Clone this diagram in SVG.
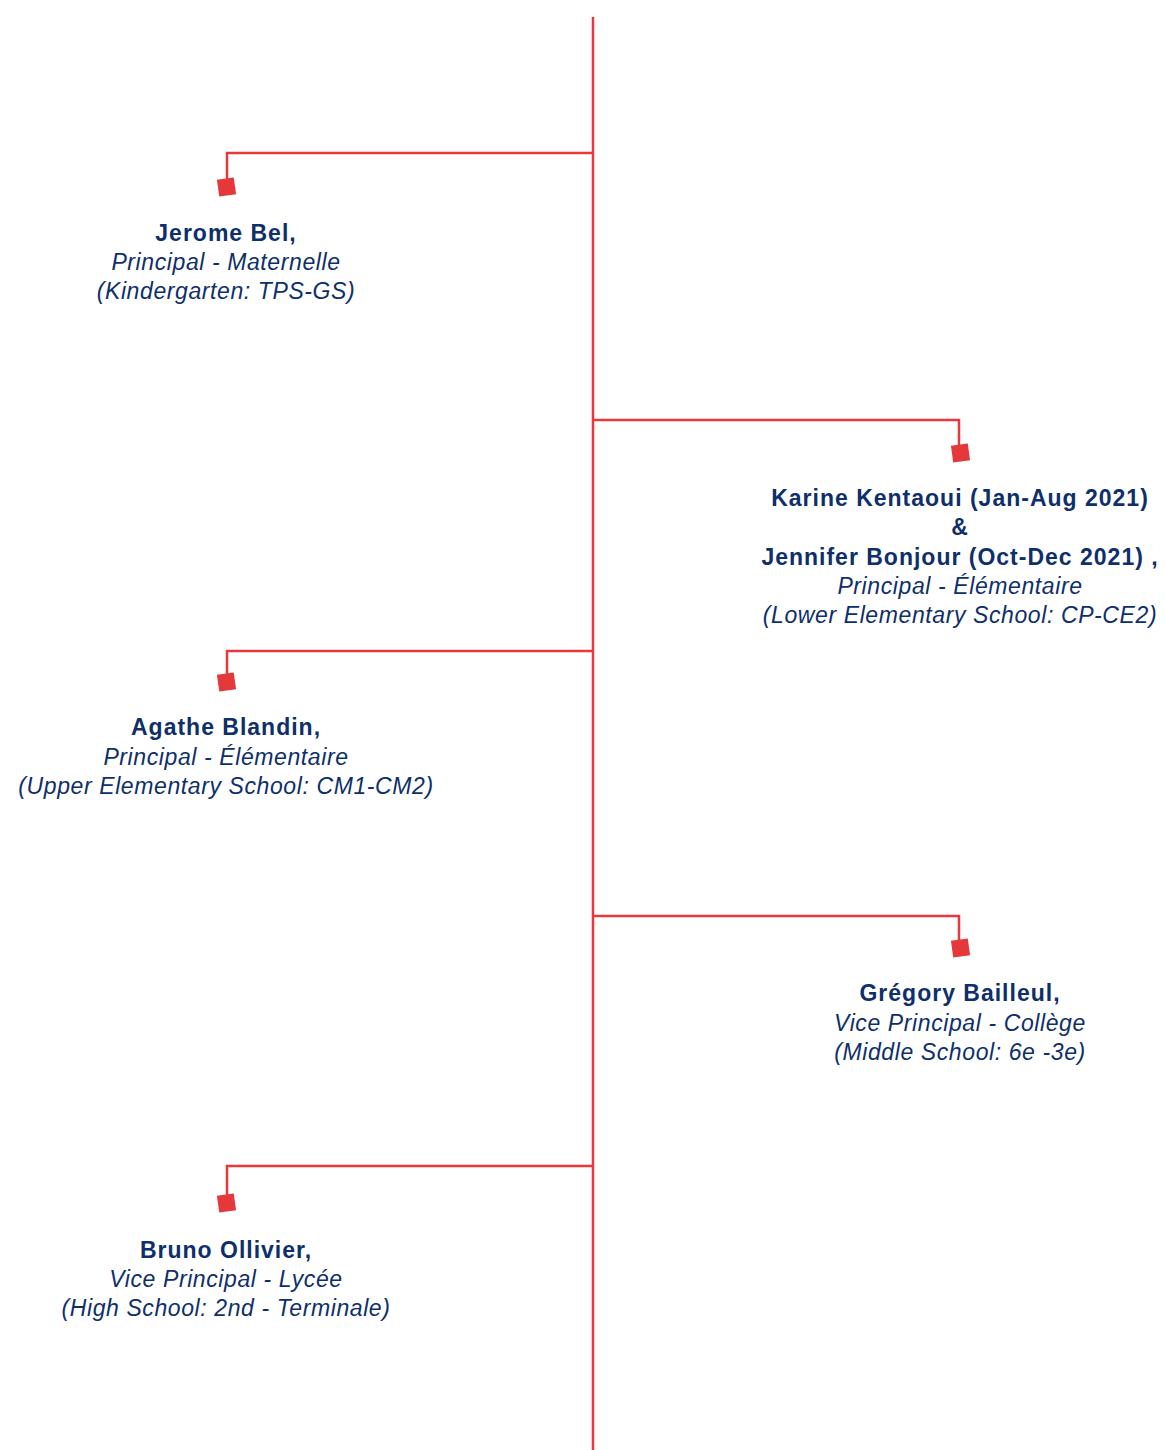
<svg xmlns="http://www.w3.org/2000/svg" width="1165" height="1450" viewBox="0 0 1165 1450">
<defs>
<style>
.ln{fill:none;stroke:#E8383B;stroke-width:2.5}
.sq{fill:#E5383A}
text{font-family:"Liberation Sans",Arial,sans-serif;font-size:23px;fill:#0E2F6B;text-anchor:middle}
.b{font-weight:bold;letter-spacing:1px}
.i{font-style:italic;letter-spacing:0.6px}
</style>
</defs>
<rect width="1165" height="1450" fill="#fff"/>
<g id="connectors">
<path class="ln" d="M593,17 V1450"/>
<path class="ln" d="M593,153 H227 V182"/>
<path class="ln" d="M593,420 H959 V448"/>
<path class="ln" d="M593,651 H227 V678"/>
<path class="ln" d="M593,916 H959 V943"/>
<path class="ln" d="M593,1166 H227 V1197"/>
<rect class="sq" x="-8.5" y="-8.5" width="17" height="17" transform="translate(226.5,187) rotate(-8)"/>
<rect class="sq" x="-8.5" y="-8.5" width="17" height="17" transform="translate(960.5,453) rotate(-8)"/>
<rect class="sq" x="-8.5" y="-8.5" width="17" height="17" transform="translate(226.5,682) rotate(-8)"/>
<rect class="sq" x="-8.5" y="-8.5" width="17" height="17" transform="translate(960.5,948) rotate(-8)"/>
<rect class="sq" x="-8.5" y="-8.5" width="17" height="17" transform="translate(226.5,1203) rotate(-8)"/>
</g>
<g id="node-jerome">
<text class="b" x="226" y="241">Jerome Bel,</text>
<text class="i" x="226" y="270">Principal - Maternelle</text>
<text class="i" x="226" y="299">(Kindergarten: TPS-GS)</text>
</g>
<g id="node-karine">
<text class="b" x="960" y="506">Karine Kentaoui (Jan-Aug 2021)</text>
<text class="b" x="960" y="535">&amp;</text>
<text class="b" x="960" y="565">Jennifer Bonjour (Oct-Dec 2021) ,</text>
<text class="i" x="960" y="594">Principal - Élémentaire</text>
<text class="i" x="960" y="623">(Lower Elementary School: CP-CE2)</text>
</g>
<g id="node-agathe">
<text class="b" x="226" y="735">Agathe Blandin,</text>
<text class="i" x="226" y="765">Principal - Élémentaire</text>
<text class="i" x="226" y="794">(Upper Elementary School: CM1-CM2)</text>
</g>
<g id="node-gregory">
<text class="b" x="960" y="1001">Grégory Bailleul,</text>
<text class="i" x="960" y="1031">Vice Principal - Collège</text>
<text class="i" x="960" y="1060">(Middle School: 6e -3e)</text>
</g>
<g id="node-bruno">
<text class="b" x="226" y="1258">Bruno Ollivier,</text>
<text class="i" x="226" y="1287">Vice Principal - Lycée</text>
<text class="i" x="226" y="1316">(High School: 2nd - Terminale)</text>
</g>
</svg>
